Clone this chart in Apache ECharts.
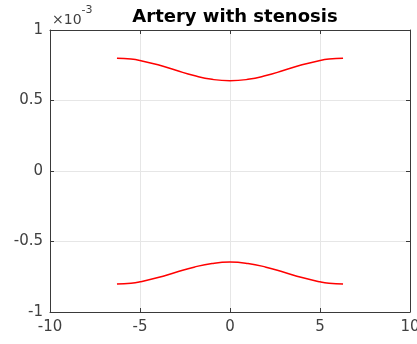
<!DOCTYPE html>
<html>
<head>
<meta charset="utf-8">
<script src="https://cdn.jsdelivr.net/npm/echarts@6/dist/echarts.min.js"></script>
<style>
  html, body { margin: 0; padding: 0; background: #fff; }
  #chart { width: 417px; height: 344px; }
</style>
</head>
<body>
<div id="chart"></div>
<script>
// x positions along the artery
const xs = [-6.28, -5.5, -5, -4, -3, -2, -1, 0, 1, 2, 3, 4, 5, 5.5, 6.28];
// wall radius, in units of 1e-3
const upperWall = [0.800, 0.794, 0.784, 0.753, 0.714, 0.677, 0.650, 0.640, 0.650, 0.677, 0.714, 0.753, 0.784, 0.794, 0.800];
const lowerWall = [-0.802, -0.796, -0.786, -0.756, -0.718, -0.682, -0.656, -0.646, -0.656, -0.682, -0.718, -0.756, -0.786, -0.796, -0.802];
const yTicks = [-1, -0.5, 0, 0.5, 1];

const font = 'DejaVu Sans';
const ink = '#404040';
const frame = '#3a3a3a';

const pairs = (ys) => xs.map((x, i) => [x, ys[i]]);

const chart = echarts.init(document.getElementById('chart'));
chart.setOption({
  animation: false,
  textStyle: { fontFamily: font },
  title: {
    text: 'Artery with stenosis',
    left: 230, top: 3, textAlign: 'center',
    textStyle: { fontFamily: font, fontSize: 18, fontWeight: 'bold', color: '#000' }
  },
  graphic: [{
    type: 'text', left: 52, top: 5,
    style: {
      text: '{a|×10}{b|-3}',
      rich: {
        a: { fontFamily: font, fontSize: 14, fill: ink, verticalAlign: 'bottom', lineHeight: 22 },
        b: { fontFamily: font, fontSize: 11, fill: ink, verticalAlign: 'top', lineHeight: 22 }
      }
    }
  }],
  grid: { left: 50, right: 7, top: 30, bottom: 32, outerBoundsMode: 'none' },
  xAxis: [{
    type: 'value', min: -10, max: 10, interval: 5,
    axisLine: { show: true, onZero: false, lineStyle: { color: frame, width: 1 } },
    axisTick: { inside: true, length: 4, lineStyle: { color: frame } },
    axisLabel: { fontFamily: font, fontSize: 15, color: ink, margin: 8 },
    splitLine: { show: true, lineStyle: { color: '#e6e6e6' } }
  }, {
    type: 'value', min: -10, max: 10, interval: 5, position: 'top',
    axisLine: { show: true, onZero: false, lineStyle: { color: frame, width: 1 } },
    axisTick: { inside: true, length: 4, lineStyle: { color: frame } },
    axisLabel: { show: false }, splitLine: { show: false }
  }],
  yAxis: [{
    type: 'value', min: -1, max: 1, interval: 0.5,
    axisLine: { show: true, onZero: false, lineStyle: { color: frame, width: 1 } },
    axisTick: { inside: true, length: 4, lineStyle: { color: frame } },
    axisLabel: {
      fontFamily: font, fontSize: 15, color: ink, margin: 7,
      formatter: (v) => yTicks.includes(v) ? String(v) : ''
    },
    splitLine: { show: true, lineStyle: { color: '#e6e6e6' } }
  }, {
    type: 'value', min: -1, max: 1, interval: 0.5, position: 'right',
    axisLine: { show: true, onZero: false, lineStyle: { color: frame, width: 1 } },
    axisTick: { inside: true, length: 4, lineStyle: { color: frame } },
    axisLabel: { show: false }, splitLine: { show: false }
  }],
  series: [
    { type: 'line', data: pairs(upperWall), smooth: true, symbol: 'none',
      lineStyle: { color: '#ff0000', width: 1.5 } },
    { type: 'line', data: pairs(lowerWall), smooth: true, symbol: 'none',
      lineStyle: { color: '#ff0000', width: 1.5 } }
  ]
});
</script>
</body>
</html>
